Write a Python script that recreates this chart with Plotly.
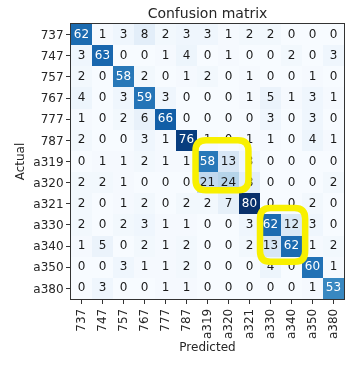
import plotly.graph_objects as go

labels = ["737", "747", "757", "767", "777", "787", "a319", "a320",
          "a321", "a330", "a340", "a350", "a380"]

matrix = [
    [62, 1, 3, 8, 2, 3, 3, 1, 2, 2, 0, 0, 0],
    [3, 63, 0, 0, 1, 4, 0, 1, 0, 0, 2, 0, 3],
    [2, 0, 58, 2, 0, 1, 2, 0, 1, 0, 0, 1, 0],
    [4, 0, 3, 59, 3, 0, 0, 0, 1, 5, 1, 3, 1],
    [1, 0, 2, 6, 66, 0, 0, 0, 0, 3, 0, 3, 0],
    [2, 0, 0, 3, 1, 76, 1, 0, 1, 1, 0, 4, 1],
    [0, 1, 1, 2, 1, 1, 58, 13, 3, 0, 0, 0, 0],
    [2, 2, 1, 0, 0, 0, 21, 24, 8, 0, 0, 0, 2],
    [2, 0, 1, 2, 0, 2, 2, 7, 80, 0, 0, 2, 0],
    [2, 0, 2, 3, 1, 1, 0, 0, 3, 62, 12, 3, 0],
    [1, 5, 0, 2, 1, 2, 0, 0, 2, 13, 62, 1, 2],
    [0, 0, 3, 1, 1, 2, 0, 0, 0, 4, 0, 60, 1],
    [0, 3, 0, 0, 1, 1, 0, 0, 0, 0, 0, 1, 53],
]

blues = ["#f7fbff", "#deebf7", "#c6dbef", "#9ecae1", "#6baed6",
         "#4292c6", "#2171b5", "#08519c", "#08306b"]

n = len(labels)
idx = list(range(n))
zmax = max(max(r) for r in matrix)
thresh = zmax / 2.0

colorscale = [[i / (len(blues) - 1), c] for i, c in enumerate(blues)]

fig = go.Figure()
fig.add_trace(go.Heatmap(
    z=matrix, x=idx, y=idx, colorscale=colorscale, zmin=0, zmax=zmax,
    showscale=False, hoverinfo="skip",
))

tx, ty, tt, tc = [], [], [], []
for i in range(n):
    for j in range(n):
        v = matrix[i][j]
        tx.append(j)
        ty.append(i)
        tt.append(str(v))
        tc.append("white" if v > thresh else "#1a1a1a")

fig.add_trace(go.Scatter(
    x=tx, y=ty, text=tt, mode="text",
    textfont=dict(family="DejaVu Sans", size=12, color=tc),
    hoverinfo="skip", showlegend=False,
))


def rrect(x0, x1, y0, y1, r):
    return (f"M {x0 + r},{y0} L {x1 - r},{y0} Q {x1},{y0} {x1},{y0 + r} "
            f"L {x1},{y1 - r} Q {x1},{y1} {x1 - r},{y1} L {x0 + r},{y1} "
            f"Q {x0},{y1} {x0},{y1 - r} L {x0},{y0 + r} Q {x0},{y0} {x0 + r},{y0} Z")


highlights = [(5.43, 7.95, 5.0, 7.36), (8.5, 10.65, 8.2, 10.74)]
for (x0, x1, y0, y1) in highlights:
    fig.add_shape(type="path", path=rrect(x0, x1, y0, y1, 0.5),
                  xref="x", yref="y", line=dict(color="rgb(248,240,0)", width=6.5),
                  fillcolor="rgba(0,0,0,0)", layer="above")

axis_common = dict(
    tickmode="array", tickvals=idx, ticktext=labels, showgrid=False,
    zeroline=False, ticks="outside", ticklen=4, tickcolor="#333",
    showline=True, linecolor="#333", linewidth=1, mirror=True,
    automargin=False,
    tickfont=dict(family="DejaVu Sans", size=12, color="#262626"),
)

fig.update_layout(
    width=357, height=366,
    margin=dict(l=71, r=13, t=24, b=67),
    paper_bgcolor="white", plot_bgcolor="white",
    showlegend=False,
    title=dict(text="Confusion matrix", x=(71 + 344) / 2 / 357, xanchor="center",
               y=1 - 13 / 366, yanchor="middle", yref="container",
               font=dict(family="DejaVu Sans", size=14, color="#262626")),
    xaxis=dict(range=[-0.5, n - 0.5], tickangle=-90,
               title=dict(text="Predicted", standoff=4,
                          font=dict(family="DejaVu Sans", size=12, color="#262626")),
               **axis_common),
    yaxis=dict(range=[n - 0.5, -0.5],
               title=dict(text="Actual", standoff=6,
                          font=dict(family="DejaVu Sans", size=12, color="#262626")),
               **axis_common),
)

post = ("document.body.style.margin='0';"
        "document.querySelectorAll('.shapelayer path').forEach(function(p){"
        "p.style.mixBlendMode='multiply';});")
fig.write_html("out.html", post_script=post, config={"displayModeBar": False})
